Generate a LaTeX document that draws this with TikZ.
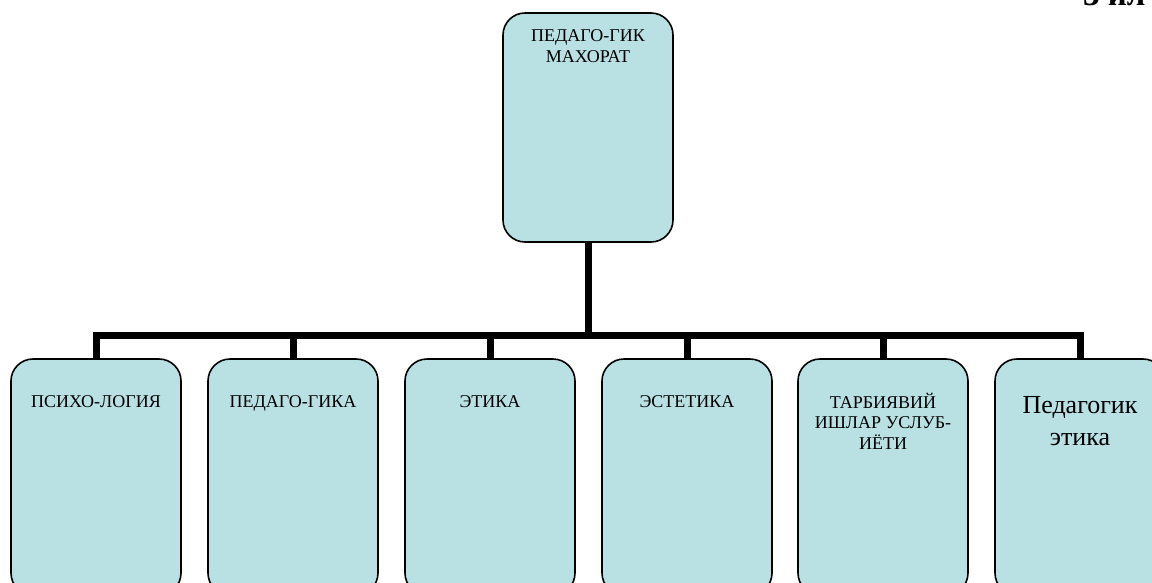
\documentclass[tikz,border=0pt]{standalone}
\usepackage{fontspec}
\setmainfont{Liberation Serif}
\usetikzlibrary{positioning}
\definecolor{boxfill}{HTML}{B9E0E3}

\begin{document}
\begin{tikzpicture}[
    x=1pt, y=-1pt,
    box/.style={rectangle, rounded corners=22pt, draw, line width=1.6pt, fill=boxfill, minimum width=170pt, inner sep=0pt},
    rootbox/.style={box, minimum height=229pt},
    leafbox/.style={box, minimum height=236pt},
    lbl/.style={align=center, inner sep=0pt, anchor=base, font=\fontsize{18}{20.5}\selectfont},
    conn/.style={line width=7pt, line join=miter}
]
\useasboundingbox (0,0) rectangle (1152,582);

% Root of the tree (labels are placed by the baseline of their last line)
\node[rootbox] (root) at (588,127.5) {};
\node[lbl] (root_txt) at (588,62) {ПЕДАГО-ГИК\\МАХОРАТ};

% Row of subjects
\node[leafbox] (psych) at (96,477) {};
\node[leafbox] (pedag) at (293,477) {};
\node[leafbox] (ethics) at (490,477) {};
\node[leafbox] (aesth) at (687,477) {};
\node[leafbox] (method) at (883,477) {};
\node[leafbox] (pedethics) at (1080,477) {};

\node[lbl] (psych_txt) at (96,407) {ПСИХО-ЛОГИЯ};
\node[lbl] (pedag_txt) at (293,407) {ПЕДАГО-ГИКА};
\node[lbl] (ethics_txt) at (490,407) {ЭТИКА};
\node[lbl] (aesth_txt) at (687,407) {ЭСТЕТИКА};
\node[lbl] (method_txt) at (883,449) {ТАРБИЯВИЙ\\ИШЛАР УСЛУБ-\\ИЁТИ};
\node[lbl, font=\fontsize{26}{32}\selectfont] (pedethics_txt) at (1080,445) {Педагогик\\этика};

% Page mark
\node[anchor=base west, inner sep=0pt, font=\fontsize{33}{36}\selectfont\bfseries] (mark) at (1083,5) {3 ил};

% Connectors
\coordinate (bus) at (588,335);
\draw[conn] (root.south) -- (bus);
\draw[conn] (psych.north) |- (bus) -| (pedethics.north);
\foreach \n in {pedag, ethics, aesth, method}
    \draw[conn] (\n.north) -- (\n.north |- bus);

\end{tikzpicture}
\end{document}
